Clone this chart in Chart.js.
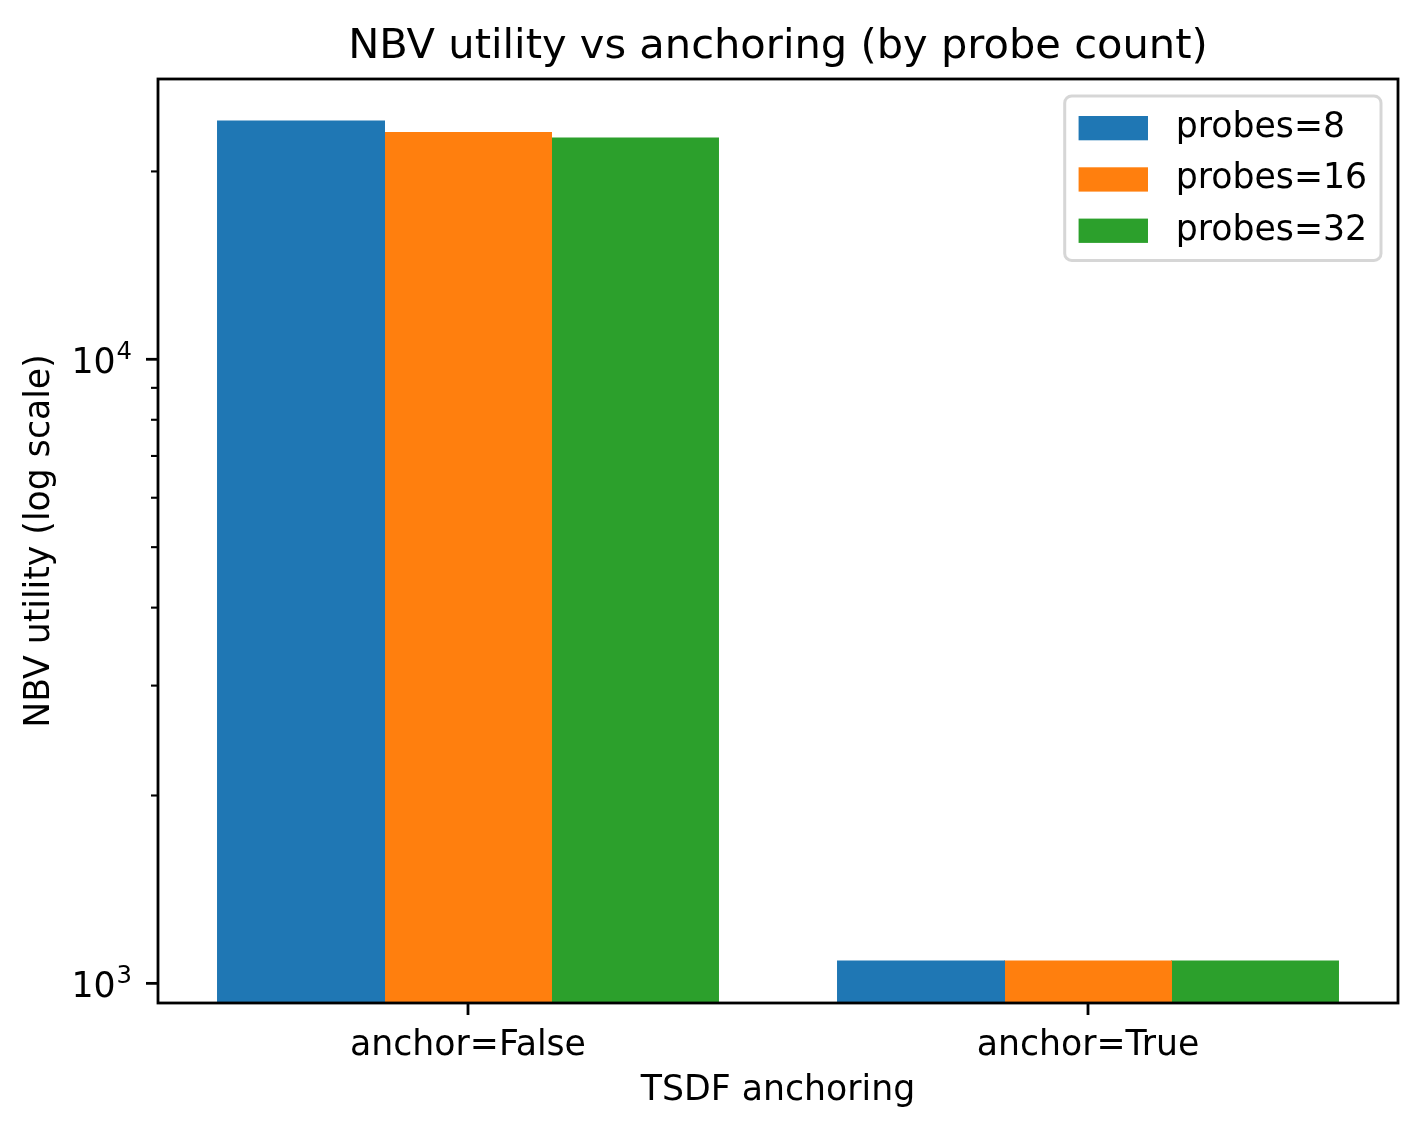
<!DOCTYPE html>
<html>
<head>
<meta charset="utf-8">
<title>NBV utility vs anchoring</title>
<script src="https://cdn.jsdelivr.net/npm/chart.js@4.4.1/dist/chart.umd.min.js"></script>
<style>
  html, body { margin: 0; padding: 0; background: #fff; }
</style>
</head>
<body>
<canvas id="chart" width="1422" height="1134"></canvas>
<script>
// data
const categories = ["anchor=False", "anchor=True"];
const seriesNames = ["probes=8", "probes=16", "probes=32"];
const probes8 = [24090, 1086];
const probes16 = [23080, 1086];
const probes32 = [22630, 1086];
const yTickValues = [1000, 2000, 3000, 4000, 5000, 6000, 7000, 8000, 9000, 10000, 20000];
const yMajorTicks = [1000, 10000];
const colors = ["#1f77b4", "#ff7f0e", "#2ca02c"];

const FONT = "DejaVu Sans";
const FS = 34.7;       // 10pt
const TITLE_FS = 41.6; // 12pt

// log scale limits with 5% margin like matplotlib
const allValues = [...probes8, ...probes16, ...probes32];
const lo = Math.log10(Math.min(...allValues));
const hi = Math.log10(Math.max(...allValues));
const marg = (hi - lo) * 0.05;
const yMin = Math.pow(10, lo - marg);
const yMax = Math.pow(10, hi + marg);

// frame, ticks, title and legend in matplotlib style
const mplDecor = {
  id: "mplDecor",
  afterDatasetsDraw(chart) {
    const { ctx, chartArea: a, scales } = chart;
    ctx.save();
    ctx.strokeStyle = "#000";
    ctx.fillStyle = "#000";
    // y ticks + 10^n labels
    scales.y.ticks.forEach((t) => {
      const y = scales.y.getPixelForValue(t.value);
      const major = yMajorTicks.includes(t.value);
      ctx.lineWidth = major ? 2.8 : 2.1;
      ctx.beginPath();
      ctx.moveTo(a.left - (major ? 12 : 7), y);
      ctx.lineTo(a.left, y);
      ctx.stroke();
      if (major) {
        const exp = String(Math.round(Math.log10(t.value)));
        const right = a.left - 26;
        ctx.textAlign = "right";
        ctx.textBaseline = "alphabetic";
        ctx.font = `${FS * 0.7}px "${FONT}"`;
        const supW = ctx.measureText(exp).width;
        ctx.fillText(exp, right, y - 0.5);
        ctx.font = `${FS}px "${FONT}"`;
        ctx.fillText("10", right - supW - 1, y + 14);
      }
    });
    // x ticks
    ctx.lineWidth = 2.8;
    scales.x.ticks.forEach((t, i) => {
      const x = scales.x.getPixelForTick(i);
      ctx.beginPath();
      ctx.moveTo(x, a.bottom);
      ctx.lineTo(x, a.bottom + 12);
      ctx.stroke();
    });
    // spines
    ctx.lineWidth = 2.8;
    ctx.strokeRect(a.left, a.top, a.right - a.left, a.bottom - a.top);
    ctx.restore();
  },
  afterDraw(chart) {
    const { ctx, chartArea: a } = chart;
    ctx.save();
    // title
    ctx.fillStyle = "#000";
    ctx.font = `${TITLE_FS}px "${FONT}"`;
    ctx.textAlign = "center";
    ctx.textBaseline = "alphabetic";
    ctx.fillText("NBV utility vs anchoring (by probe count)", (a.left + a.right) / 2, a.top - 21);

    // legend
    ctx.font = `${FS}px "${FONT}"`;
    const pad = 0.4 * FS, handle = 2 * FS, gap = 0.8 * FS, rowStep = 51.3;
    const textW = Math.max(...seriesNames.map((s) => ctx.measureText(s).width));
    const w = pad + handle + gap + textW + pad;
    const h = 3 * 34 + 2 * 0.5 * FS + 2 * pad;
    const bx = a.right - 17 - w;
    const by = a.top + 17;
    ctx.beginPath();
    ctx.roundRect(bx, by, w, h, 7);
    ctx.fillStyle = "rgba(255,255,255,0.8)";
    ctx.fill();
    ctx.lineWidth = 3;
    ctx.strokeStyle = "rgba(204,204,204,0.8)";
    ctx.stroke();
    chart.data.datasets.forEach((ds, i) => {
      const cy = by + 32 + i * rowStep;
      ctx.fillStyle = ds.backgroundColor;
      ctx.fillRect(bx + pad, cy - 12, handle, 24.3);
      ctx.fillStyle = "#000";
      ctx.textAlign = "left";
      ctx.textBaseline = "middle";
      ctx.fillText(ds.label, bx + pad + handle + gap, cy);
    });
    ctx.restore();
  }
};

const seriesData = [probes8, probes16, probes32];

new Chart(document.getElementById("chart"), {
  type: "bar",
  data: {
    labels: categories,
    datasets: seriesNames.map((name, i) => ({
      label: name,
      data: seriesData[i],
      backgroundColor: colors[i],
      borderWidth: 0,
      inflateAmount: 0.5,
      barPercentage: 1.0,
      categoryPercentage: 0.808
    }))
  },
  options: {
    responsive: false,
    animation: false,
    devicePixelRatio: 1,
    layout: { padding: { top: 79, right: 24, left: 0, bottom: 0 } },
    plugins: {
      legend: { display: false },
      title: { display: false },
      tooltip: { enabled: false }
    },
    scales: {
      x: {
        type: "category",
        offset: true,
        grid: { display: false, drawTicks: true, tickLength: 12, offset: false },
        border: { display: false },
        ticks: { color: "#000", font: { family: FONT, size: FS }, padding: 10, maxRotation: 0 },
        title: {
          display: true,
          text: "TSDF anchoring",
          color: "#000",
          font: { family: FONT, size: FS },
          padding: { top: 0, bottom: 22 }
        },
        afterFit(scale) { scale.height = 131; }
      },
      y: {
        type: "logarithmic",
        min: yMin,
        max: yMax,
        bounds: "data",
        grid: { display: false, drawTicks: true, tickLength: 12 },
        border: { display: false },
        afterBuildTicks(scale) {
          scale.ticks = yTickValues.map((v) => ({ value: v, major: yMajorTicks.includes(v) }));
        },
        ticks: {
          autoSkip: false,
          font: { family: FONT, size: FS },
          padding: 12,
          callback: () => ""  // labels drawn as 10^n in the plugin
        },
        title: {
          display: true,
          text: "NBV utility (log scale)",
          color: "#000",
          font: { family: FONT, size: FS },
          padding: { top: 19, bottom: 0 }
        },
        afterFit(scale) { scale.width = 158; }
      }
    }
  },
  plugins: [mplDecor]
});
</script>
</body>
</html>
